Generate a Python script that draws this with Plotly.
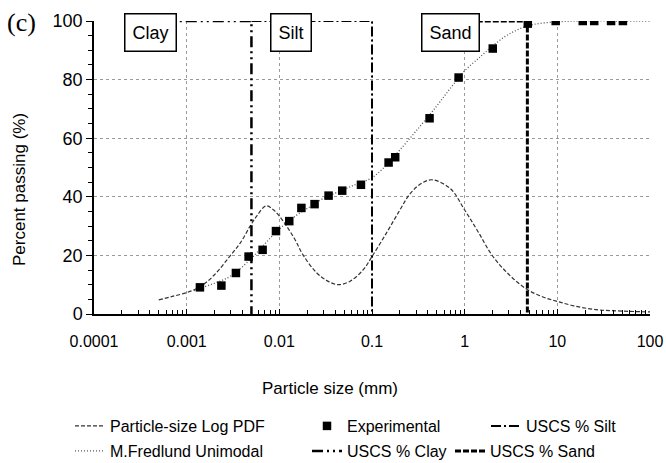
import numpy as np
import plotly.graph_objects as go

# ---------------- data ----------------
exp_size = [0.00139, 0.00237, 0.0034, 0.00466, 0.0066, 0.0092, 0.0128, 0.0173, 0.024, 0.034,
            0.0477, 0.076, 0.151, 0.178, 0.418, 0.86, 2.01, 4.8, 9.6, 18.8, 25, 38, 51]
exp_pass = [9.1, 9.7, 14.0, 19.6, 21.9, 28.3, 31.7, 36.2, 37.5, 40.4,
            42.1, 44.1, 51.7, 53.5, 66.8, 80.7, 90.6, 99.1, 100, 100, 100, 100, 100]

fit_size = [0.0012, 0.0014, 0.002, 0.003, 0.005, 0.007, 0.01, 0.015, 0.02, 0.03, 0.05, 0.07,
            0.1, 0.15, 0.2, 0.3, 0.5, 0.7, 1, 1.5, 2, 3, 5, 10, 20, 50, 100]
fit_pass = [8.0, 8.8, 10.5, 13.0, 19.0, 24.0, 29.0, 33.5, 36.0, 39.5, 42.5, 44.5,
            46.5, 51.5, 56.0, 62.5, 71.0, 77.0, 83.0, 88.0, 91.5, 95.5, 98.5, 99.7, 100, 100, 100]

pdf_size = [0.0005, 0.0007, 0.001, 0.0014, 0.002, 0.0029, 0.0038, 0.0048, 0.0057, 0.0072,
            0.0089, 0.0114, 0.0147, 0.018, 0.025, 0.033, 0.043, 0.058, 0.081, 0.1, 0.143,
            0.2, 0.26, 0.35, 0.45, 0.7, 1.0, 1.4, 2.0, 3.0, 4.6, 7, 10, 15, 26, 50, 100]
pdf_val = [4.8, 6.0, 7.3, 9.3, 13.4, 19.6, 24.3, 29.8, 33.4, 36.9,
           35.2, 31.0, 25.5, 20.2, 14.2, 11.3, 10.0, 11.2, 15.2, 19.6, 27.6,
           35.5, 41.2, 44.8, 45.8, 42.8, 35.5, 28.0, 19.8, 13.5, 8.6, 5.8, 4.3, 2.8, 1.5, 1.0, 0.7]

clay_size = [0.0005, 0.005, 0.005]
clay_pass = [100, 100, 0]
silt_size = [0.005, 0.1, 0.1]
silt_pass = [100, 100, 0]
sand_size = [0.5, 4.75, 4.75]
sand_pass = [100, 100, 0]

x_tickvals = [0.0001, 0.001, 0.01, 0.1, 1, 10, 100]
x_ticktext = ["0.0001", "0.001", "0.01", "0.1", "1", "10", "100"]
y_tickvals = [0, 20, 40, 60, 80, 100]

zone_labels = ["Clay", "Silt", "Sand"]
zone_centers = [0.000408, 0.0133, 0.70]
zone_widths = [44, 33, 50]

FONT = "Liberation Sans, Arial, sans-serif"

# ---------------- figure ----------------
fig = go.Figure()

fig.add_trace(go.Scatter(x=pdf_size, y=pdf_val, mode="lines", name="Particle-size Log PDF",
                         line=dict(color="#333333", width=1.2, dash="4px,2px", shape="spline"),
                         legend="legend", legendgroup="a"))
fig.add_trace(go.Scatter(x=fit_size, y=fit_pass, mode="lines", name="M.Fredlund Unimodal",
                         line=dict(color="#555555", width=1.3, dash="1px,2px", shape="spline"),
                         legend="legend2", legendgroup="b"))
fig.add_trace(go.Scatter(x=exp_size, y=exp_pass, mode="markers", name="Experimental",
                         marker=dict(symbol="square", size=8.5, color="black"),
                         legend="legend3", legendgroup="c"))
fig.add_trace(go.Scatter(x=clay_size, y=clay_pass, mode="lines", name="USCS % Clay",
                         line=dict(color="black", width=2.5, dash="11px,4px,2px,4px,2px,4px"),
                         legend="legend4", legendgroup="d"))
fig.add_trace(go.Scatter(x=silt_size, y=silt_pass, mode="lines", name="USCS % Silt",
                         line=dict(color="black", width=2, dash="10px,3px,2px,3px"),
                         legend="legend5", legendgroup="e"))
fig.add_trace(go.Scatter(x=sand_size, y=sand_pass, mode="lines", name="USCS % Sand",
                         line=dict(color="black", width=3, dash="6px,2px"),
                         legend="legend6", legendgroup="f"))

for lab, cx, wd in zip(zone_labels, zone_centers, zone_widths):
    fig.add_annotation(x=np.log10(cx), y=96, xref="x", yref="y", text=lab, showarrow=False,
                       font=dict(family=FONT, size=18, color="black"), width=wd, height=30,
                       bgcolor="white", bordercolor="black", borderwidth=1.5, borderpad=3)

L, R, T, B = 94, 16, 21, 149
W, H = 666, 463
pw, ph = W - L - R, H - T - B

def px2paper(px, py):
    return (px - L) / pw, (H - B - py) / ph

cx_, cy_ = px2paper(21, 23)
fig.add_annotation(x=cx_, y=cy_, xref="paper", yref="paper", text="(c)", showarrow=False,
                   xanchor="center", yanchor="middle",
                   font=dict(family="Liberation Serif, Times New Roman, serif", size=26, color="black"))

tx, ty = px2paper(20, 190)
fig.add_annotation(x=tx, y=ty, xref="paper", yref="paper", text="Percent passing (%)",
                   showarrow=False, textangle=-90, xanchor="center", yanchor="middle",
                   font=dict(family=FONT, size=17, color="black"))
tx, ty = px2paper(330, 388)
fig.add_annotation(x=tx, y=ty, xref="paper", yref="paper", text="Particle size (mm)",
                   showarrow=False, xanchor="center", yanchor="middle",
                   font=dict(family=FONT, size=17, color="black"))

leg_common = dict(font=dict(family=FONT, size=16, color="black"), bgcolor="rgba(0,0,0,0)",
                  borderwidth=0, orientation="v", xanchor="left", yanchor="middle",
                  itemclick=False, itemdoubleclick=False)
leg_pos = {"legend": (70, 426), "legend2": (70, 451), "legend3": (307, 426),
           "legend4": (307, 451), "legend5": (486, 426), "legend6": (450, 451)}
legends = {}
for k, (px, py) in leg_pos.items():
    lx, ly = px2paper(px, py)
    legends[k] = dict(x=lx, y=ly, **leg_common)

fig.update_layout(
    width=W, height=H,
    margin=dict(l=L, r=R, t=T, b=B, autoexpand=False),
    plot_bgcolor="white", paper_bgcolor="white",
    showlegend=True,
    font=dict(family=FONT, size=17, color="black"),
    xaxis=dict(type="log", range=[-4, 2], tickvals=x_tickvals, ticktext=x_ticktext,
               showgrid=True, gridcolor="#9a9a9a", griddash="dot", gridwidth=1,
               showline=True, linecolor="black", linewidth=2,
               ticks="inside", ticklen=5, tickcolor="black", tickwidth=1,
               ticklabelstandoff=12,
               minor=dict(ticks="inside", ticklen=4, tickcolor="black", showgrid=False,
                          dtick="D1"),
               tickfont=dict(family=FONT, size=16),
               automargin=False, zeroline=False),
    yaxis=dict(range=[0, 100], tickvals=y_tickvals,
               showgrid=True, gridcolor="#9a9a9a", griddash="dot", gridwidth=1,
               showline=True, linecolor="black", linewidth=1.5,
               ticks="outside", ticklen=6, tickcolor="black", tickwidth=1,
               minor=dict(ticks="outside", ticklen=4, tickcolor="black", dtick=5, showgrid=False),
               tickfont=dict(family=FONT, size=18),
               automargin=False, zeroline=False),
    **legends,
)

fig.write_html("out.html", config={"displayModeBar": False},
               post_script="document.body.style.margin='0';document.body.style.overflow='hidden';")
